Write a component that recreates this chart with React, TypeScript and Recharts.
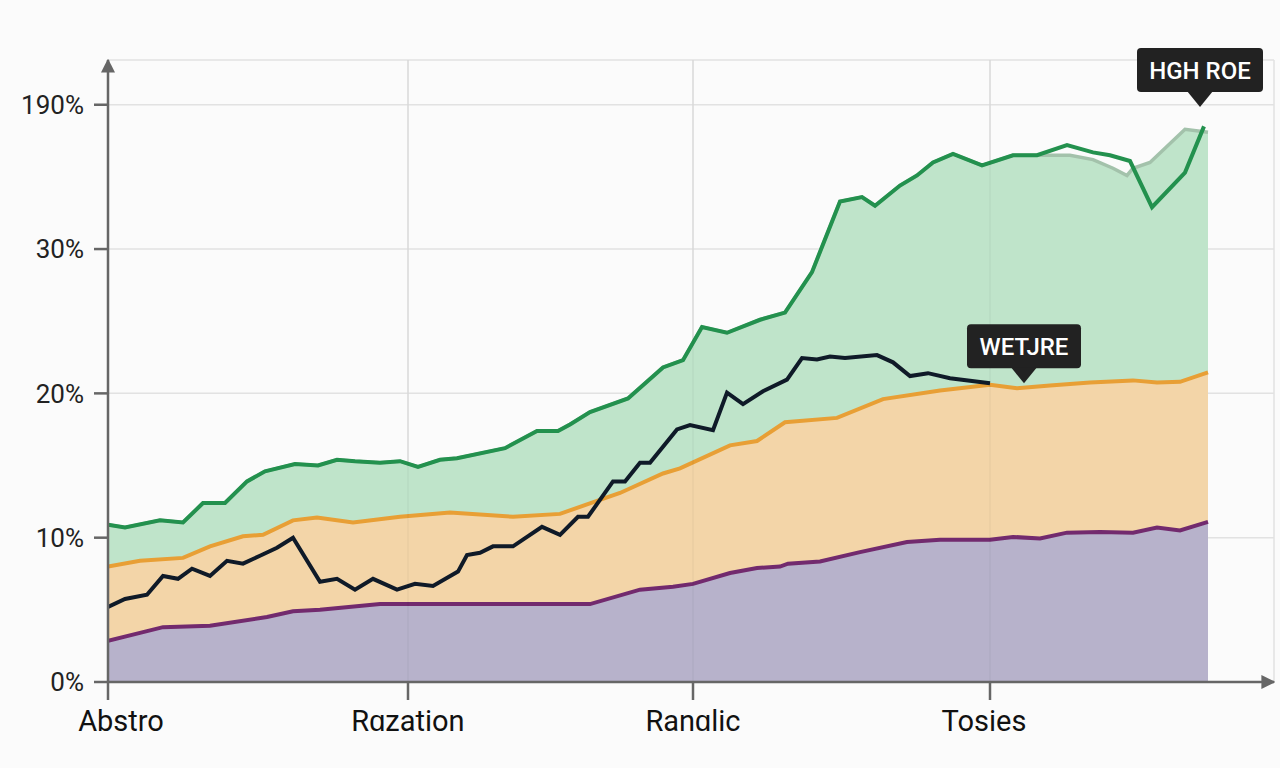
import { ComposedChart, Area, Line, XAxis, YAxis, CartesianGrid, ReferenceDot, ReferenceLine } from 'recharts'

// x position (period index) and value in percent for each series
const purplePts: [number, number][] = [
  [0, 2.85], [1.6, 3.4], [2.75, 3.8], [5.1, 3.9], [7.95, 4.5], [9.25, 4.9], [10.6, 5.0], [13.6, 5.4],
  [24.1, 5.4], [26.6, 6.4], [28.25, 6.6], [29.25, 6.8], [31.1, 7.55], [32.45, 7.9], [33.6, 8.0], [34.0, 8.2],
  [35.6, 8.35], [37.6, 9.0], [39.95, 9.7], [41.6, 9.85], [44.1, 9.85], [45.25, 10.05], [46.6, 9.95],
  [47.95, 10.35], [49.6, 10.4], [51.25, 10.35], [52.45, 10.7], [53.6, 10.5], [55, 11.1],
]

const orangePts: [number, number][] = [
  [0, 8.0], [1.6, 8.4], [3.75, 8.6], [5.1, 9.4], [6.75, 10.1], [7.75, 10.2], [9.25, 11.2], [10.45, 11.4],
  [12.25, 11.05], [14.6, 11.45], [17.1, 11.75], [20.25, 11.45], [22.6, 11.65], [24.45, 12.55], [25.6, 13.1],
  [27.75, 14.45], [28.6, 14.8], [31.1, 16.4], [32.45, 16.7], [33.85, 18.0], [36.45, 18.3], [38.75, 19.6],
  [41.6, 20.2], [44.1, 20.6], [45.45, 20.35], [47.1, 20.55], [49.1, 20.75], [51.25, 20.9], [52.45, 20.75],
  [53.6, 20.8], [55, 21.45],
]

const greenPts: [number, number][] = [
  [0, 10.9], [0.85, 10.7], [2.6, 11.2], [3.75, 11.05], [4.75, 12.4], [5.85, 12.4], [6.95, 13.9], [7.85, 14.6],
  [9.35, 15.1], [10.5, 15.0], [11.45, 15.4], [12.35, 15.3], [13.6, 15.2], [14.6, 15.3], [15.5, 14.9],
  [16.6, 15.4], [17.45, 15.5], [19.85, 16.2], [21.45, 17.4], [22.5, 17.4], [23.1, 17.85], [24.1, 18.7],
  [26.0, 19.65], [27.75, 21.8], [28.75, 22.3], [29.7, 24.6], [30.95, 24.2], [32.6, 25.1], [33.85, 25.6],
  [35.2, 28.4], [36.6, 33.3], [37.7, 33.6], [38.35, 33.0], [39.6, 34.4], [40.45, 35.1], [41.25, 36.0],
  [42.25, 36.6], [43.7, 35.8], [45.25, 36.5], [46.45, 36.5], [47.95, 37.2], [49.25, 36.7], [50.1, 36.5],
  [51.1, 36.1], [52.2, 32.9], [53.85, 35.3], [54.8, 38.5],
]

// upper edge of the green band where it parts from the green line
const greenFillTail: [number, number][] = [
  [46.75, 36.5], [48.1, 36.5], [49.25, 36.2], [50.25, 35.6], [50.95, 35.1], [51.25, 35.6], [52.1, 36.0],
  [53.85, 38.3], [55, 38.1],
]

const blackPts: [number, number][] = [
  [0, 5.2], [0.85, 5.75], [1.95, 6.05], [2.75, 7.35], [3.5, 7.15], [4.2, 7.85], [5.1, 7.35], [5.95, 8.4],
  [6.75, 8.2], [7.6, 8.75], [8.45, 9.3], [9.25, 10.0], [10.6, 6.95], [11.45, 7.15], [12.35, 6.4], [13.25, 7.15],
  [14.45, 6.4], [15.35, 6.8], [16.25, 6.65], [17.5, 7.65], [17.95, 8.8], [18.6, 8.95], [19.25, 9.4],
  [20.25, 9.4], [21.7, 10.75], [22.6, 10.2], [23.5, 11.45], [24.0, 11.45], [25.25, 13.9], [25.85, 13.9],
  [26.6, 15.2], [27.1, 15.2], [28.45, 17.5], [29.1, 17.8], [30.25, 17.45], [30.95, 20.05], [31.75, 19.25],
  [32.75, 20.15], [33.95, 20.95], [34.7, 22.45], [35.45, 22.35], [36.1, 22.55], [36.85, 22.45], [38.45, 22.65],
  [39.25, 22.15], [40.1, 21.2], [41.0, 21.4], [42.1, 21.05], [44.1, 20.7],
]

const xTicks = [0, 15, 29.25, 44.1]
const xLabels = ['Abstro', 'Rɑzation', 'Ranɑlic', 'Tosies']
const yTicks = [0, 10, 20, 30, 40]
const yLabels = ['0%', '10%', '20%', '30%', '190%']

const greenFillPts = greenPts.filter(([t]) => t <= 46.45).concat(greenFillTail)

function buildRows() {
  const rows = new Map<number, Record<string, number>>()
  const add = (key: string, pts: [number, number][]) => {
    pts.forEach(([t, v]) => {
      const row = rows.get(t) ?? { t }
      row[key] = v
      rows.set(t, row)
    })
  }
  add('purple', purplePts)
  add('orange', orangePts)
  add('green', greenPts)
  add('greenFill', greenFillPts)
  add('black', blackPts)
  return [...rows.values()].sort((a, b) => a.t - b.t)
}

const rows = buildRows()

const FONT = 'Roboto, "Open Sans", sans-serif'
const AXIS = '#666'
// the first category label sits a little right of its tick
const labelShift = [13, 0, 0, -6]

const XTick = (props: { x?: number; y?: number; index?: number; payload?: { value: number } }) => {
  const i = props.index ?? 0
  const label = xLabels[xTicks.indexOf(props.payload?.value ?? -1)] ?? ''
  return (
    <text
      x={(props.x ?? 0) + (labelShift[i] ?? 0)}
      y={(props.y ?? 0) + 29}
      textAnchor="middle"
      fontSize={29}
      fill="#111"
      fontFamily={FONT}
    >
      {label}
    </text>
  )
}

const callout = (label: string, w: number) => (props: { cx?: number; cy?: number }) => {
  const cx = props.cx ?? 0
  const cy = props.cy ?? 0
  const h = 44
  const ph = 15
  const pw = 26
  const top = cy - ph - h
  return (
    <g>
      <rect x={cx - w / 2} y={top} width={w} height={h} rx={4} fill="#222" />
      <path d={`M${cx - pw / 2},${cy - ph - 1} L${cx + pw / 2},${cy - ph - 1} L${cx},${cy} Z`} fill="#222" />
      <text
        x={cx}
        y={top + h / 2 + 1}
        textAnchor="middle"
        dominantBaseline="central"
        fill="#fff"
        fontSize={24}
        fontWeight={500}
        fontFamily={FONT}
      >
        {label}
      </text>
    </g>
  )
}

export default function App() {
  return (
    <div style={{ position: 'absolute', left: 0, top: 0, width: 1280, height: 768, background: '#fbfbfb', fontFamily: FONT }}>
      <ComposedChart width={1280} height={768} data={rows} margin={{ top: 60, right: 6, bottom: 26, left: 0 }}>
        <defs>
          <marker
            id="arrowHead"
            viewBox="0 0 10 10"
            refX="9"
            refY="5"
            markerWidth="14"
            markerHeight="14"
            markerUnits="userSpaceOnUse"
            orient="auto-start-reverse"
          >
            <path d="M0,0 L10,5 L0,10 Z" fill={AXIS} />
          </marker>
        </defs>
        <CartesianGrid stroke="#e2e2e2" strokeWidth={1.5} />
        <XAxis
          dataKey="t"
          type="number"
          domain={[0, 58.3]}
          allowDataOverflow
          ticks={xTicks}
          interval={0}
          height={60}
          tickSize={18}
          tick={<XTick />}
          tickLine={{ stroke: AXIS, strokeWidth: 2.5 }}
          axisLine={{ stroke: AXIS, strokeWidth: 2.5, markerEnd: 'url(#arrowHead)' }}
        />
        <YAxis
          type="number"
          domain={[0, 43.1]}
          allowDataOverflow
          ticks={yTicks}
          interval={0}
          tickFormatter={(v: number) => yLabels[yTicks.indexOf(v)] ?? ''}
          width={108}
          tickSize={14}
          tickMargin={10}
          tick={{ fontSize: 26, fill: '#222', fontFamily: FONT }}
          tickLine={{ stroke: AXIS, strokeWidth: 2.5 }}
          axisLine={{ stroke: AXIS, strokeWidth: 2.5, markerStart: 'url(#arrowHead)' }}
        />
        <Area
          dataKey="greenFill"
          type="linear"
          connectNulls
          fill="#bfe4ca"
          fillOpacity={1}
          stroke="#a3c2ab"
          strokeWidth={3.5}
          isAnimationActive={false}
        />
        <Line dataKey="green" type="linear" connectNulls stroke="#23914e" strokeWidth={4} dot={false} activeDot={false} isAnimationActive={false} />
        <Area
          dataKey="orange"
          type="linear"
          connectNulls
          fill="#f3d5a8"
          fillOpacity={1}
          stroke="#e89f35"
          strokeWidth={4}
          isAnimationActive={false}
        />
        <Area
          dataKey="purple"
          type="linear"
          connectNulls
          fill="#b7b2cb"
          fillOpacity={1}
          stroke="#722a6e"
          strokeWidth={4}
          isAnimationActive={false}
        />
        <Line dataKey="black" type="linear" connectNulls stroke="#0f1a28" strokeWidth={4} dot={false} activeDot={false} isAnimationActive={false} />
        {xTicks.slice(1).map(x => (
          <ReferenceLine key={`vx${x}`} x={x} stroke="#000" strokeOpacity={0.04} strokeWidth={1.5} />
        ))}
        <ReferenceDot x={45.8} y={20.7} r={0} shape={callout('WETJRE', 114)} />
        <ReferenceDot x={54.6} y={39.85} r={0} shape={callout('HGH ROE', 126)} />
      </ComposedChart>
    </div>
  )
}
